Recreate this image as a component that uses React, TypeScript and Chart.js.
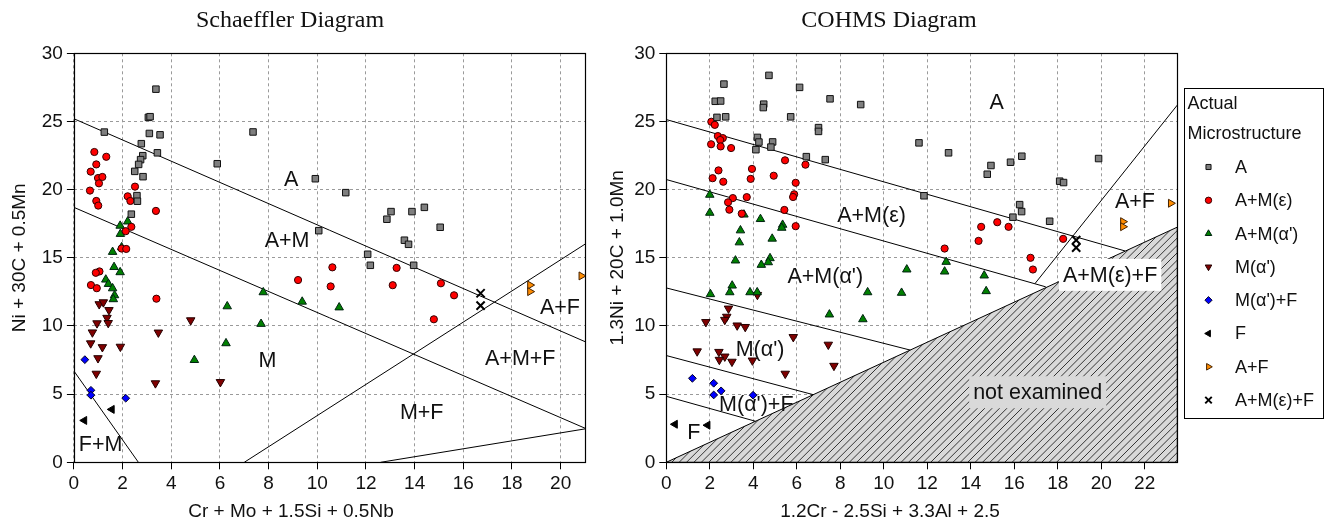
import React, { useEffect, useRef } from 'react';
import { Chart, registerables } from 'chart.js';

Chart.register(...registerables);

type Pt = [number, number];

// ---------------- Schaeffler diagram data ----------------
const schA: Pt[] = [[3.37,27.37],[3.06,25.3],[3.13,25.35],[1.25,24.22],[3.1,24.12],[3.54,24.02],[2.77,23.37],[3.43,22.7],[2.83,22.49],[2.74,22.2],[2.66,21.85],[2.5,21.34],[2.84,20.95],[2.59,19.56],[2.61,19.15],[2.36,18.2],[7.36,24.23],[5.89,21.9],[9.92,20.8],[10.06,16.99],[11.17,19.78],[13.03,18.39],[12.86,17.83],[13.89,18.39],[14.4,18.7],[15.05,17.24],[13.58,16.29],[13.75,15.99],[12.07,15.26],[12.18,14.45],[13.96,14.45]];
const schAMe: Pt[] = [[0.84,22.76],[1.33,22.41],[0.92,21.85],[0.69,21.32],[0.99,20.85],[1.17,20.93],[1.03,20.46],[2.51,20.22],[0.66,19.93],[2.21,19.51],[2.32,19.17],[0.92,19.17],[1.0,18.83],[3.37,18.44],[2.36,17.27],[2.13,16.95],[1.96,15.68],[2.15,15.65],[1.05,14.0],[0.9,13.9],[0.7,13.0],[0.94,12.77],[3.39,12.0],[10.62,14.3],[9.21,13.37],[10.55,12.9],[13.26,14.26],[13.1,12.99],[15.08,13.13],[15.62,12.25],[14.79,10.49]];
const schAMa: Pt[] = [[1.9,17.35],[2.21,17.66],[1.91,16.75],[1.96,15.77],[1.59,15.43],[1.65,14.32],[1.9,13.94],[1.31,13.4],[1.42,13.08],[1.59,12.76],[1.67,12.25],[1.62,11.96],[7.78,12.47],[9.38,11.78],[6.3,11.44],[7.69,10.15],[6.25,8.73],[4.95,7.5],[10.9,11.36]];
const schMa: Pt[] = [[1.04,11.6],[1.21,11.74],[1.44,11.17],[1.36,10.6],[1.41,10.22],[0.95,10.2],[0.76,9.53],[3.47,9.52],[0.69,8.73],[1.17,8.45],[1.91,8.48],[0.99,7.64],[0.92,6.5],[3.35,5.8],[6.02,5.89],[4.8,10.42]];
const schMaF: Pt[] = [[0.45,7.53],[0.7,5.28],[0.7,4.92],[2.13,4.7]];
const schF: Pt[] = [[1.56,3.88],[0.43,3.07]];
const schAF: Pt[] = [[18.74,13.0],[18.74,12.52],[20.85,13.67]];
const schAMeF: Pt[] = [[16.71,12.4],[16.71,11.49]];

const schLines: Pt[][] = [
  [[0, 25.2], [21, 8.85]],
  [[0, 18.7], [21, 2.5]],
  [[0, 6.7], [2.65, 0]],
  [[7, 0], [21, 16]],
  [[12.6, 0], [21, 2.45]],
];
const schRegionText = ['A', 'A+M', 'M', 'F+M', 'M+F', 'A+M+F', 'A+F'];
const schRegionAt: Pt[] = [[8.93, 20.74], [8.76, 16.31], [7.95, 7.5], [1.1, 1.34], [14.29, 3.71], [18.34, 7.63], [19.97, 11.42]];

// ---------------- COHMS diagram data ----------------
const coA: Pt[] = [[4.72,28.38],[2.65,27.74],[6.13,27.5],[7.53,26.66],[8.94,26.24],[11.62,23.43],[2.25,26.48],[2.5,26.5],[4.48,26.27],[4.46,26.02],[2.33,25.3],[2.73,25.34],[5.72,25.34],[7.0,24.55],[7.0,24.27],[4.19,23.83],[4.26,23.49],[4.89,23.5],[4.12,22.93],[4.81,23.12],[6.44,22.42],[7.31,22.2],[12.98,22.7],[14.93,21.77],[14.76,21.13],[15.83,22.01],[16.35,22.45],[19.88,22.28],[18.09,20.62],[18.27,20.52],[11.85,19.55],[16.25,18.9],[16.34,18.39],[15.94,17.98],[17.63,17.68]];
const coAMe: Pt[] = [[2.07,24.98],[2.23,24.75],[2.37,23.93],[2.6,23.78],[2.48,23.64],[2.06,23.33],[2.5,23.17],[2.98,23.05],[5.46,22.15],[6.4,21.83],[2.4,21.41],[3.94,21.52],[4.94,21.02],[2.13,20.84],[2.62,20.58],[3.88,20.79],[5.95,20.5],[5.88,19.66],[5.83,19.46],[3.06,19.38],[2.84,19.07],[3.7,19.45],[2.9,18.53],[3.47,18.24],[5.43,18.51],[5.95,17.32],[14.48,17.27],[15.22,17.61],[15.74,17.27],[14.36,16.24],[12.8,15.68],[18.25,16.39],[16.75,15.0],[16.86,14.14]];
const coAMa: Pt[] = [[2.0,19.62],[2.0,18.3],[3.57,18.17],[4.33,17.84],[5.35,17.42],[5.31,17.2],[3.41,17.01],[4.87,16.4],[3.36,16.13],[3.18,14.8],[4.77,14.97],[4.69,14.67],[4.37,14.48],[3.03,12.96],[2.92,12.47],[2.03,12.33],[3.85,12.47],[4.18,12.47],[7.5,10.84],[9.26,12.47],[9.04,10.49],[11.06,14.14],[10.82,12.43],[12.87,14.7],[12.8,13.99],[14.62,13.7],[14.71,12.55]];
const coMa: Pt[] = [[4.19,12.28],[2.86,11.28],[2.78,10.68],[2.69,10.45],[1.82,10.29],[3.26,10.04],[3.63,9.93],[5.84,9.19],[1.42,8.14],[2.42,8.1],[2.69,7.76],[2.44,7.52],[3.02,7.38],[3.96,7.47],[7.45,8.63],[7.71,7.08],[5.47,6.5]];
const coMaF: Pt[] = [[1.2,6.16],[2.18,5.8],[2.52,5.24],[2.18,4.94],[3.99,4.92]];
const coF: Pt[] = [[0.4,2.79],[1.9,2.72]];
const coAF: Pt[] = [[21.0,17.65],[21.0,17.28],[23.2,19.0]];
const coAMeF: Pt[] = [[18.85,16.3],[18.85,15.75]];

const coLines: Pt[][] = [
  [[0, 25.14], [21.1, 15.5]],
  [[0, 20.74], [17.45, 12.87]],
  [[0, 12.79], [11.22, 8.23]],
  [[0, 7.83], [6.76, 4.96]],
  [[0, 4.84], [4.1, 3.01]],
  [[16.95, 13.1], [23.5, 26.2]],
];
const coHatch: Pt[] = [[0, 0], [23.5, 17.25], [23.5, 0]];
const coRegionText = ['A', 'A+M(ε)', "A+M(α')", "M(α')", "M(α')+F", 'F', 'A+F', 'A+M(ε)+F', 'not examined'];
const coRegionAt: Pt[] = [[15.19, 26.4], [9.44, 18.12], [7.31, 13.65], [4.31, 8.34], [4.14, 4.3], [1.26, 2.23], [21.55, 19.15], [20.41, 13.75], [17.08, 5.14]];

const seriesNames = ['A', 'A+M(ε)', "A+M(α')", "M(α')", "M(α')+F", 'F', 'A+F', 'A+M(ε)+F'];

// ---------------- styles ----------------
const SANS = "'Liberation Sans', Arial, sans-serif";
const SERIF = "'Liberation Serif', 'Times New Roman', serif";

type MStyle = { pointStyle: string; radius: number; rotation: number; fill: string; stroke: string; lw: number; legendR: number };
const markerStyles: MStyle[] = [
  { pointStyle: 'rect', radius: 4.6, rotation: 0, fill: '#7f7f7f', stroke: '#111', lw: 1, legendR: 3.6 },
  { pointStyle: 'circle', radius: 3.6, rotation: 0, fill: '#ff0000', stroke: '#300', lw: 1, legendR: 3.2 },
  { pointStyle: 'triangle', radius: 4.9, rotation: 0, fill: '#008000', stroke: '#021', lw: 1, legendR: 3.8 },
  { pointStyle: 'triangle', radius: 4.9, rotation: 180, fill: '#800000', stroke: '#200', lw: 1, legendR: 3.8 },
  { pointStyle: 'rectRot', radius: 3.9, rotation: 0, fill: '#0000ff', stroke: '#002', lw: 1, legendR: 3.6 },
  { pointStyle: 'triangle', radius: 4.6, rotation: 270, fill: '#000000', stroke: '#000', lw: 1, legendR: 3.8 },
  { pointStyle: 'triangle', radius: 4.6, rotation: 90, fill: '#ff8c00', stroke: '#420', lw: 1, legendR: 3.8 },
  { pointStyle: 'crossRot', radius: 5.8, rotation: 0, fill: '#000000', stroke: '#000', lw: 2, legendR: 4.6 },
];
const labelBg: Record<string, string> = { 'A+M(ε)+F': '#ffffff', 'not examined': '#d9d9d9' };

function drawMarker(ctx: CanvasRenderingContext2D, st: MStyle, x: number, y: number, r: number) {
  ctx.save();
  ctx.beginPath();
  ctx.fillStyle = st.fill;
  ctx.strokeStyle = st.stroke;
  ctx.lineWidth = st.pointStyle === 'crossRot' ? st.lw : 1;
  let a = (st.rotation * Math.PI) / 180;
  if (st.pointStyle === 'circle') {
    ctx.arc(x, y, r, 0, Math.PI * 2);
  } else if (st.pointStyle === 'rect') {
    const s = r * Math.SQRT1_2;
    ctx.rect(x - s, y - s, 2 * s, 2 * s);
  } else if (st.pointStyle === 'rectRot') {
    ctx.moveTo(x, y - r); ctx.lineTo(x + r, y); ctx.lineTo(x, y + r); ctx.lineTo(x - r, y); ctx.closePath();
  } else if (st.pointStyle === 'triangle') {
    ctx.moveTo(x + Math.sin(a) * r, y - Math.cos(a) * r);
    a += (2 * Math.PI) / 3;
    ctx.lineTo(x + Math.sin(a) * r, y - Math.cos(a) * r);
    a += (2 * Math.PI) / 3;
    ctx.lineTo(x + Math.sin(a) * r, y - Math.cos(a) * r);
    ctx.closePath();
  } else if (st.pointStyle === 'crossRot') {
    const d = r * Math.SQRT1_2;
    ctx.moveTo(x - d, y - d); ctx.lineTo(x + d, y + d);
    ctx.moveTo(x + d, y - d); ctx.lineTo(x - d, y + d);
    ctx.stroke();
    ctx.restore();
    return;
  }
  ctx.fill();
  ctx.stroke();
  ctx.restore();
}

type Spec = {
  width: number;
  yWidth: number;
  padRight: number;
  xMax: number;
  series: Pt[][];
  lines: Pt[][];
  regionText: string[];
  regionAt: Pt[];
  hatch?: Pt[];
  title: string;
  titleX: number;
  xTitle: string;
  xTitleX: number;
  yTitle: string;
  legend: boolean;
};

const PLOT_TOP = 53.3;
const PLOT_BOTTOM = 462.3;
const H = 526;

function makeConfig(spec: Spec): any {
  const datasets: any[] = [];
  spec.series.forEach((pts, i) => {
    const st = markerStyles[i];
    datasets.push({
      label: seriesNames[i],
      data: pts.map(([x, y]) => ({ x, y })),
      showLine: false,
      pointStyle: st.pointStyle,
      pointRadius: st.radius,
      pointHoverRadius: st.radius,
      pointRotation: st.rotation,
      backgroundColor: st.fill,
      borderColor: st.stroke,
      pointBorderWidth: st.lw,
      borderWidth: st.lw,
    });
  });
  spec.lines.forEach((seg) => {
    datasets.push({
      label: '',
      data: seg.map(([x, y]) => ({ x, y })),
      showLine: true,
      borderColor: '#000',
      borderWidth: 1,
      pointRadius: 0,
      pointHoverRadius: 0,
      fill: false,
    });
  });

  const overlay = {
    id: 'overlay',
    beforeDatasetsDraw(chart: any) {
      if (!spec.hatch) return;
      const ctx: CanvasRenderingContext2D = chart.ctx;
      const xs = chart.scales.x, ys = chart.scales.y;
      const P = spec.hatch.map(([x, y]) => [xs.getPixelForValue(x), ys.getPixelForValue(y)]);
      ctx.save();
      ctx.beginPath();
      P.forEach(([px, py], i) => (i ? ctx.lineTo(px, py) : ctx.moveTo(px, py)));
      ctx.closePath();
      ctx.fillStyle = '#d9d9d9';
      ctx.fill();
      ctx.save();
      ctx.clip();
      ctx.beginPath();
      ctx.strokeStyle = '#222';
      ctx.lineWidth = 0.9;
      const { left, right, top, bottom } = chart.chartArea;
      const hgt = bottom - top;
      for (let x0 = left - hgt; x0 < right + 10; x0 += 7.4) {
        ctx.moveTo(x0, bottom);
        ctx.lineTo(x0 + hgt, top);
      }
      ctx.stroke();
      ctx.restore();
      ctx.beginPath();
      P.forEach(([px, py], i) => (i ? ctx.lineTo(px, py) : ctx.moveTo(px, py)));
      ctx.closePath();
      ctx.strokeStyle = '#000';
      ctx.lineWidth = 1;
      ctx.stroke();
      ctx.restore();
    },
    afterDatasetsDraw(chart: any) {
      const ctx: CanvasRenderingContext2D = chart.ctx;
      const xs = chart.scales.x, ys = chart.scales.y;
      ctx.save();
      ctx.font = `21.5px ${SANS}`;
      ctx.textAlign = 'center';
      ctx.textBaseline = 'middle';
      spec.regionText.forEach((t, i) => {
        const px = xs.getPixelForValue(spec.regionAt[i][0]);
        const py = ys.getPixelForValue(spec.regionAt[i][1]);
        const bg = labelBg[t];
        if (bg) {
          const w = ctx.measureText(t).width;
          ctx.fillStyle = bg;
          ctx.fillRect(px - w / 2 - 4, py - 16, w + 8, 32);
        }
        ctx.fillStyle = '#111';
        ctx.fillText(t, px, py + 1);
      });
      ctx.restore();
    },
    afterDraw(chart: any) {
      const ctx: CanvasRenderingContext2D = chart.ctx;
      const { left, right, top, bottom } = chart.chartArea;
      ctx.save();
      // frame
      ctx.strokeStyle = '#000';
      ctx.lineWidth = 1.2;
      ctx.strokeRect(Math.round(left) + 0.5, Math.round(top) + 0.5, Math.round(right) - Math.round(left), Math.round(bottom) - Math.round(top));
      // titles
      ctx.fillStyle = '#111';
      ctx.textAlign = 'center';
      ctx.textBaseline = 'middle';
      ctx.font = `24px ${SERIF}`;
      ctx.fillText(spec.title, spec.titleX, 21);
      ctx.font = `19px ${SANS}`;
      ctx.fillText(spec.xTitle, spec.xTitleX, 512);
      ctx.save();
      ctx.translate(20, (top + bottom) / 2);
      ctx.rotate(-Math.PI / 2);
      ctx.fillText(spec.yTitle, 0, 0);
      ctx.restore();
      // legend
      if (spec.legend) {
        const bx = 586, by = 88, bw = 139, bh = 330;
        ctx.strokeStyle = '#000';
        ctx.lineWidth = 1;
        ctx.strokeRect(bx + 0.5, by + 0.5, bw, bh);
        ctx.textAlign = 'left';
        ctx.font = `18px ${SANS}`;
        ctx.fillText('Actual', 589.5, 104);
        ctx.fillText('Microstructure', 589.5, 134);
        seriesNames.forEach((name, i) => {
          const yy = 167 + i * 33.3;
          drawMarker(ctx, markerStyles[i], 610.5, yy, markerStyles[i].legendR);
          ctx.fillStyle = '#111';
          ctx.fillText(name, 637, yy + 1);
        });
      }
      ctx.restore();
    },
  };

  const tickFont = { family: SANS, size: 19 };
  return {
    type: 'scatter',
    data: { datasets },
    plugins: [overlay],
    options: {
      animation: false,
      responsive: false,
      maintainAspectRatio: false,
      devicePixelRatio: 1,
      events: [],
      layout: { padding: { left: 0, top: PLOT_TOP, right: spec.padRight, bottom: 0 } },
      plugins: { legend: { display: false }, tooltip: { enabled: false }, title: { display: false } },
      scales: {
        x: {
          type: 'linear',
          min: 0,
          max: spec.xMax,
          afterFit: (s: any) => { s.height = H - PLOT_BOTTOM; },
          ticks: { stepSize: 2, includeBounds: false, font: tickFont, color: '#111', padding: 3, maxRotation: 0, autoSkip: false },
          grid: { color: '#9a9a9a', lineWidth: 1, tickLength: 7, tickColor: '#000', tickBorderDash: [], tickWidth: 1 },
          border: { display: false, dash: [3, 3] },
        },
        y: {
          type: 'linear',
          min: 0,
          max: 30,
          afterFit: (s: any) => { s.width = spec.yWidth; },
          ticks: { stepSize: 5, font: tickFont, color: '#111', padding: 4 },
          grid: { color: '#9a9a9a', lineWidth: 1, tickLength: 7, tickColor: '#000', tickBorderDash: [], tickWidth: 1 },
          border: { display: false, dash: [3, 3] },
        },
      },
    },
  };
}

const leftSpec: Spec = {
  width: 598,
  yWidth: 73.9,
  padRight: 13,
  xMax: 21,
  series: [schA, schAMe, schAMa, schMa, schMaF, schF, schAF, schAMeF],
  lines: schLines,
  regionText: schRegionText,
  regionAt: schRegionAt,
  title: 'Schaeffler Diagram',
  titleX: 290,
  xTitle: 'Cr + Mo + 1.5Si + 0.5Nb',
  xTitleX: 291,
  yTitle: 'Ni + 30C + 0.5Mn',
  legend: false,
};

const rightSpec: Spec = {
  width: 730,
  yWidth: 68.3,
  padRight: 150.7,
  xMax: 23.5,
  series: [coA, coAMe, coAMa, coMa, coMaF, coF, coAF, coAMeF],
  lines: coLines,
  regionText: coRegionText,
  regionAt: coRegionAt,
  hatch: coHatch,
  title: 'COHMS Diagram',
  titleX: 291,
  xTitle: '1.2Cr - 2.5Si + 3.3Al + 2.5',
  xTitleX: 292,
  yTitle: '1.3Ni + 20C + 1.0Mn',
  legend: true,
};

function Panel({ spec, left }: { spec: Spec; left: number }) {
  const ref = useRef<HTMLCanvasElement | null>(null);
  useEffect(() => {
    if (!ref.current) return;
    const chart = new Chart(ref.current, makeConfig(spec));
    return () => chart.destroy();
  }, [spec]);
  return (
    <canvas
      ref={ref}
      width={spec.width}
      height={H}
      style={{ position: 'absolute', left, top: 0, width: spec.width, height: H }}
    />
  );
}

export default function App() {
  return (
    <div style={{ position: 'absolute', left: 0, top: 0, width: 1328, height: H, background: '#fff', overflow: 'hidden' }}>
      <Panel spec={leftSpec} left={0} />
      <Panel spec={rightSpec} left={598} />
    </div>
  );
}
